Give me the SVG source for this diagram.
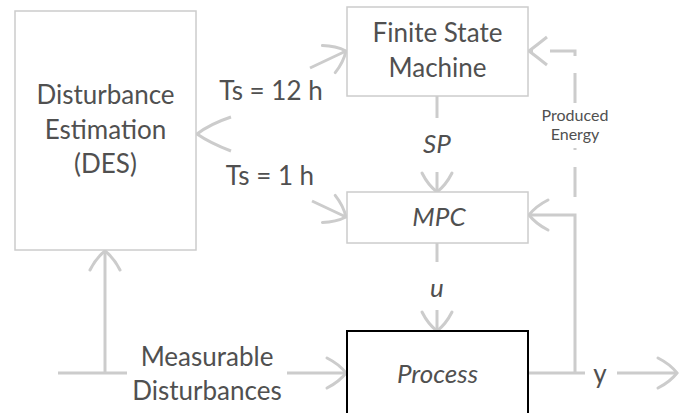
<svg xmlns="http://www.w3.org/2000/svg" width="689" height="413" viewBox="0 0 689 413">
<style>
.box{fill:#ffffff;stroke:#cccccc;stroke-width:1.5}
.pbox{fill:#ffffff;stroke:#000000;stroke-width:2}
.ln{fill:none;stroke:#cccccc;stroke-width:3}
.dash{fill:none;stroke:#cccccc;stroke-width:3;stroke-dasharray:30 17;stroke-dashoffset:31}
.t{font-family:Lato,"Liberation Sans",sans-serif;font-size:26px;fill:#505050;text-anchor:middle}
.it{font-style:italic}
.s{font-size:16px}
</style>
<defs>
<marker id="ah" markerUnits="userSpaceOnUse" viewBox="-22 -18 24 36" markerWidth="24" markerHeight="36" refX="0" refY="0" orient="auto" overflow="visible">
<path d="M-19,-15 Q-7,-9 0,0 Q-7,9 -19,15" fill="none" stroke="#cccccc" stroke-width="3" stroke-linecap="round"/>
</marker>
</defs>
<g id="connectors">
<path class="ln" d="M231,117 Q210,124 197,134 Q210,143 231,151"/>
<path class="ln" d="M310,68 L346,51" marker-end="url(#ah)"/>
<path class="ln" d="M312,201 L346,217" marker-end="url(#ah)"/>
<path class="ln" d="M437,96 V118"/>
<path class="ln" d="M437,172 V192" marker-end="url(#ah)"/>
<path class="ln" d="M437,243 V262"/>
<path class="ln" d="M437,310 V331" marker-end="url(#ah)"/>
<path class="ln" d="M528,373 H585"/>
<path class="ln" d="M617,373 H677" marker-end="url(#ah)"/>
<path class="ln" d="M575,373 V215 H529" marker-end="url(#ah)"/>
<path class="dash" d="M575,213 V51 H529"/>
<path class="ln" d="M547,37 Q537,45 529,51 Q537,57 547,65"/>
<path class="ln" d="M58,373 H127"/>
<path class="ln" d="M105,373 V251" marker-end="url(#ah)"/>
<path class="ln" d="M287,373 H346" marker-end="url(#ah)"/>
<rect x="538" y="104" width="74" height="44" fill="#ffffff"/>
<text class="t s" x="575" y="121">Produced</text>
<text class="t s" x="575" y="140">Energy</text>
<text class="t" x="271" y="100">Ts = 12 h</text>
<text class="t" x="270" y="185">Ts = 1 h</text>
<text class="t it" x="437" y="153">SP</text>
<text class="t it" x="437" y="297">u</text>
<text class="t" x="600" y="383">y</text>
<text class="t" x="207" y="366">Measurable</text>
<text class="t" x="207" y="400">Disturbances</text>
</g>
<g id="des">
<rect class="box" x="15" y="11" width="181" height="239"/>
<text class="t" x="105.5" y="104">Disturbance</text>
<text class="t" x="105.5" y="139">Estimation</text>
<text class="t" x="105.5" y="173">(DES)</text>
</g>
<g id="fsm">
<rect class="box" x="347" y="7" width="181" height="89"/>
<text class="t" x="437.5" y="42">Finite State</text>
<text class="t" x="437.5" y="77">Machine</text>
</g>
<g id="mpc">
<rect class="box" x="347" y="192" width="181" height="51"/>
<text class="t it" x="439" y="226">MPC</text>
</g>
<g id="process">
<rect class="pbox" x="347" y="331" width="181" height="100"/>
<text class="t it" x="437.5" y="383">Process</text>
</g>
</svg>
